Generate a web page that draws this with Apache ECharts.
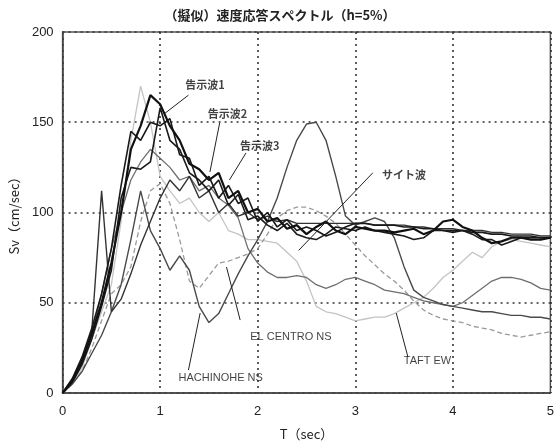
<!DOCTYPE html>
<html><head><meta charset="utf-8">
<script src="https://cdn.jsdelivr.net/npm/echarts@6/dist/echarts.min.js"></script>
<style>html,body{margin:0;padding:0;background:#fff}#c{width:557px;height:446px}</style>
</head><body><div id="c"></div>
<script>
// Period (sec)
const periods = [0,0.1,0.2,0.3,0.4,0.5,0.6,0.7,0.8,0.9,1.0,
  1.1,1.2,1.3,1.4,1.5,1.6,1.7,1.8,1.9,2.0,
  2.1,2.2,2.3,2.4,2.5,2.6,2.7,2.8,2.9,3.0,
  3.1,3.2,3.3,3.4,3.5,3.6,3.7,3.8,3.9,4.0,
  4.1,4.2,4.3,4.4,4.5,4.6,4.7,4.8,4.9,5.0];

// Sv (cm/sec)
const kokuji1 = [0,7,18,33,50,72,100,135,148,165,160,
  148,140,127,124,118,122,108,112,100,102,
  95,97,91,93,88,92,95,90,88,92,
  91,90,90,89,90,91,88,90,95,96,
  92,90,86,83,84,86,86,85,85,86];
const kokuji2 = [0,6,16,30,48,68,108,125,124,128,158,
  140,135,122,118,112,118,104,110,96,98,
  93,90,94,88,86,85,88,92,91,90,
  92,90,89,88,87,85,86,90,90,89,
  90,88,85,85,82,84,86,86,86,86];
const kokuji3 = [0,8,20,36,55,80,115,145,140,150,148,
  152,132,130,115,120,108,115,105,108,95,
  100,92,96,90,92,90,87,89,92,94,
  94,93,93,93,92,92,91,91,90,90,
  90,89,89,88,88,87,87,87,86,86];
const siteWave = [0,6,16,35,112,45,52,66,82,95,108,
  118,112,120,108,112,100,105,98,100,96,
  98,95,96,94,94,94,94,94,94,94,
  94,93,93,93,93,92,92,91,91,91,
  90,90,90,89,89,88,88,88,87,87];
const hachinohe = [0,5,12,22,32,45,60,85,112,90,80,
  68,76,68,48,39,44,55,66,76,85,
  95,108,125,140,149,150,140,120,98,93,
  95,97,95,86,70,57,53,51,49,48,
  47,46,45,45,44,43,43,42,42,41];
const elCentro = [0,5,12,25,40,55,60,70,95,112,116,
  105,85,62,58,65,72,73,75,77,80,
  88,97,101,103,103,101,98,94,88,82,
  76,71,66,62,57,51,46,43,41,40,
  39,37,36,35,33,32,31,32,33,34];
const otherWave = [0,6,16,32,55,80,100,118,128,135,130,
  125,118,120,112,115,108,104,97,80,72,
  67,64,64,65,64,60,58,60,63,64,
  62,60,57,56,55,53,51,50,49,48,
  50,54,58,62,64,64,63,61,58,57];
const taft = [0,5,14,30,45,60,95,140,170,150,120,
  112,105,108,100,95,100,90,88,85,85,
  84,83,78,73,62,48,45,44,42,40,
  41,42,42,44,47,50,53,58,64,68,
  73,78,75,81,84,85,84,83,82,81];

// Axis ticks
const xTicks = [0,1,2,3,4,5];
const yTicks = [0,50,100,150,200];

// Annotations: text, text position [T,Sv], leader from, leader to
const annoText = ['告示波1','告示波2','告示波3','サイト波','EL CENTRO NS','HACHINOHE NS','TAFT EW'];
const annoPos  = [[1.46,170.5],[1.69,154.6],[2.02,137],[3.5,121],[2.34,31],[1.62,8.5],[3.74,17.5]];
const annoFrom = [[1.29,165],[1.61,149.6],[1.88,133],[3.18,122],[1.82,40.4],[1.29,12.7],[3.54,19.9]];
const annoTo   = [[1.05,155],[1.51,122.4],[1.71,118],[2.42,79],[1.68,69.8],[1.41,44.3],[3.42,44.3]];

const pair = v => periods.map((t,i)=>[t, v[i]]);
const mk = (name, v, color, width, type) => ({
  name, type:'line', data: pair(v), symbol:'none', smooth:false, silent:true,
  lineStyle:{color, width, type: type||'solid'}, z:3
});
const isLatin = s => /^[A-Z ]+$/.test(s);

const chart = echarts.init(document.getElementById('c'));
chart.setOption({
  animation:false,
  backgroundColor:'#fff',
  title:{text:'（擬似）速度応答スペクトル（h=5%）', left:275, top:4, textAlign:'center',
    textStyle:{fontFamily:'Noto Sans CJK JP', fontSize:13, fontWeight:'bold', color:'#222'}},
  grid:{left:61, right:3, top:32, bottom:53, show:true, borderColor:'#555', borderWidth:1.5},
  xAxis:{type:'value', min:0, max:5, interval:1,
    name:'T（sec）', nameLocation:'middle', nameGap:35,
    nameTextStyle:{fontFamily:'Noto Sans CJK JP', fontSize:13, color:'#222'},
    axisLine:{show:true, lineStyle:{color:'#444', width:1.5}},
    axisTick:{show:false},
    axisLabel:{margin:12, fontFamily:'Liberation Sans', fontSize:13, color:'#222',
      formatter: v => xTicks.includes(v) ? String(v) : ''},
    splitLine:{show:true, lineStyle:{color:'#333', width:1.6, type:[2,4]}}},
  yAxis:{type:'value', min:0, max:200, interval:50,
    name:'Sv（cm/sec）', nameLocation:'middle', nameGap:33, nameRotate:90,
    nameTextStyle:{fontFamily:'Noto Sans CJK JP', fontSize:13, color:'#222'},
    axisLine:{show:true, lineStyle:{color:'#444', width:1.5}},
    axisTick:{show:false},
    axisLabel:{margin:9, fontFamily:'Liberation Sans', fontSize:13, color:'#222',
      formatter: v => yTicks.includes(v) ? String(v) : ''},
    splitLine:{show:true, lineStyle:{color:'#333', width:1.6, type:[2,4]}}},
  series:[
    mk('TAFT EW', taft, '#c4c4c4', 1.3),
    mk('EL CENTRO NS', elCentro, '#9a9a9a', 1.3, [5,3]),
    mk('', otherWave, '#6e6e6e', 1.3),
    mk('HACHINOHE NS', hachinohe, '#4a4a4a', 1.4),
    mk('サイト波', siteWave, '#333', 1.4),
    mk('告示波3', kokuji3, '#1a1a1a', 1.6),
    mk('告示波2', kokuji2, '#1a1a1a', 1.6),
    mk('告示波1', kokuji1, '#111', 2.2),
    {type:'lines', coordinateSystem:'cartesian2d', silent:true, z:5,
      lineStyle:{color:'#222', width:1, opacity:1},
      data: annoFrom.map((f,i)=>({coords:[f, annoTo[i]]}))},
    {type:'scatter', symbolSize:0, silent:true, z:6,
      data: annoText.map((t,i)=>({value:annoPos[i], name:t,
        label: isLatin(t) ? {fontFamily:'Liberation Sans', fontWeight:'normal'} : {fontFamily:'Noto Sans CJK JP', fontWeight:'bold'}})),
      label:{show:true, position:'inside', formatter: p => p.name,
        fontSize:11, color:'#111'}}
  ]
});
</script></body></html>
